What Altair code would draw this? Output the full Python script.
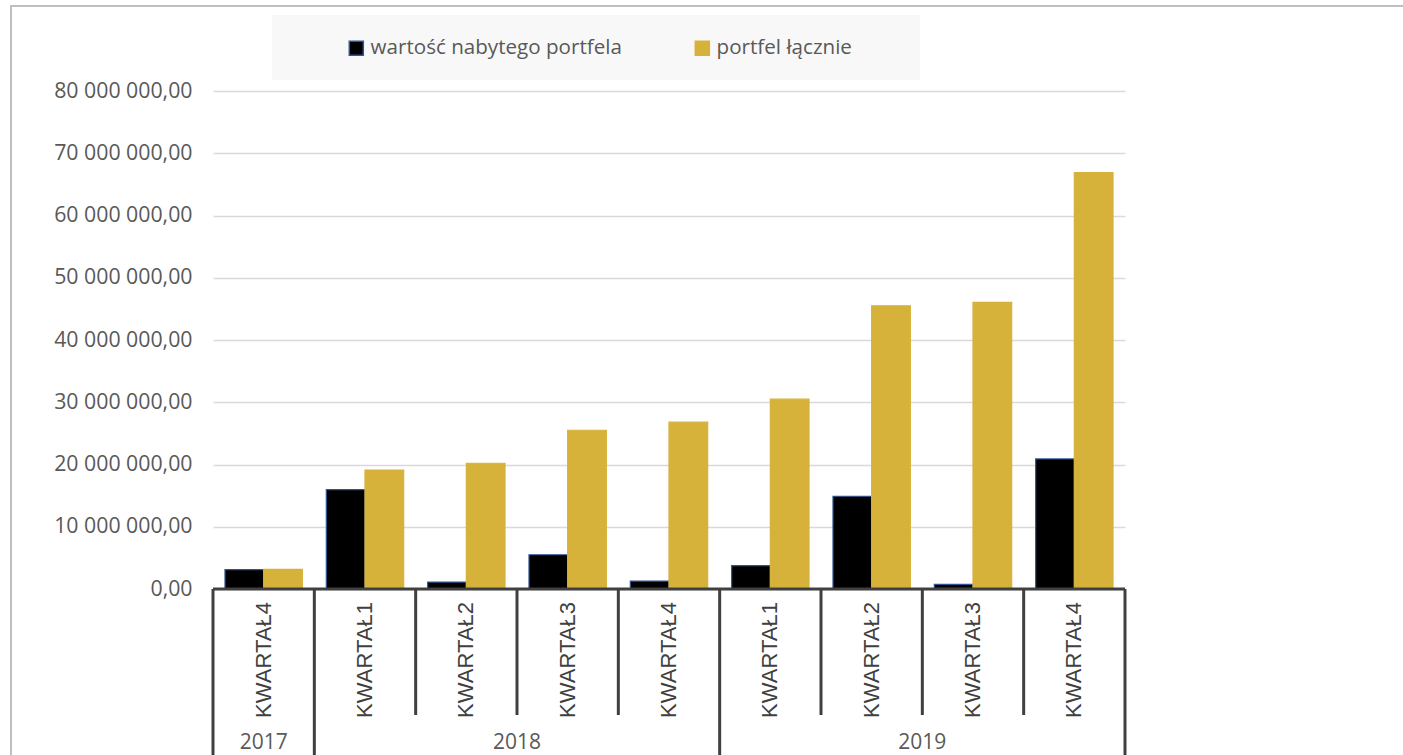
import altair as alt
import pandas as pd

# ---- data ----
years = ["2017", "2018", "2018", "2018", "2018", "2019", "2019", "2019", "2019"]
quarters = ["KWARTAŁ4", "KWARTAŁ1", "KWARTAŁ2", "KWARTAŁ3", "KWARTAŁ4",
            "KWARTAŁ1", "KWARTAŁ2", "KWARTAŁ3", "KWARTAŁ4"]
acquired = [3.10e6, 15.95e6, 1.12e6, 5.50e6, 1.28e6, 3.75e6, 14.90e6, 0.75e6, 20.90e6]
total = [3.15e6, 19.10e6, 20.20e6, 25.50e6, 26.80e6, 30.50e6, 45.50e6, 46.05e6, 66.90e6]
series_names = ["wartość nabytego portfela", "portfel łącznie"]
fill_colors = ["#000000", "#D6B23A"]
stroke_colors = ["#2F5597", "#D6B23A"]
y_ticks = [0, 10e6, 20e6, 30e6, 40e6, 50e6, 60e6, 70e6, 80e6]

cats = [f"{y}|{q}" for y, q in zip(years, quarters)]

rows = []
for c, y, q, a, t in zip(cats, years, quarters, acquired, total):
    rows.append({"cat": c, "year": y, "quarter": q, "series": series_names[0], "value": a})
    rows.append({"cat": c, "year": y, "quarter": q, "series": series_names[1], "value": t})
df = pd.DataFrame(rows)

cat_df = pd.DataFrame({"cat": cats, "year": years, "quarter": quarters})
first_of_year = [i == 0 or years[i] != years[i - 1] for i in range(len(cats))]
short_sep = cat_df[[not f for f in first_of_year]]
long_sep = cat_df[first_of_year]
last_cat = cat_df.iloc[[-1]]
# year label anchors: single-quarter year centred on its band, others at mid-span boundary
year_single = cat_df[cat_df["year"] == "2017"]
year_multi = cat_df[(cat_df["quarter"] == "KWARTAŁ2") & (cat_df["year"] != "2017")]

W, H = 912, 498
xscale = alt.Scale(domain=cats, paddingInner=0, paddingOuter=0)
AX = "#404040"
LBL = "#595959"
FONT = "Open Sans"

one = pd.DataFrame({"k": [0]})

frame = alt.Chart(one).mark_rect(fill=None, stroke="#BFBFBF", strokeWidth=2).encode(
    x=alt.value(-202), x2=alt.value(1403 - 213 + 20),
    y=alt.value(-85), y2=alt.value(755 - 91 + 20))

legend_bg = alt.Chart(one).mark_rect(fill="#F8F8F8").encode(
    x=alt.value(59), x2=alt.value(707), y=alt.value(-76), y2=alt.value(-11))

leg = alt.Legend(title=None, orient="none", legendX=133, legendY=-53,
                 direction="horizontal", symbolType="square", symbolSize=196,
                 symbolStrokeWidth=1.5, labelFont=FONT, labelFontSize=20.6,
                 labelColor=LBL, labelOffset=4, columnPadding=70, padding=0,
                 labelLimit=400)

bars = alt.Chart(df).mark_bar(strokeWidth=1.2).encode(
    x=alt.X("cat:N", scale=xscale, axis=None),
    xOffset=alt.XOffset("series:N", sort=series_names,
                        scale=alt.Scale(domain=series_names, paddingOuter=0.31, paddingInner=0)),
    y=alt.Y("value:Q", scale=alt.Scale(domain=[0, 80e6]),
            axis=alt.Axis(values=y_ticks, format=",.2f", labelFont=FONT,
                          labelFontSize=21.3, labelColor=LBL, labelPadding=21,
                          ticks=False, domain=False, grid=True, gridColor="#D9D9D9",
                          gridWidth=1.5, title=None)),
    fill=alt.Fill("series:N", scale=alt.Scale(domain=series_names, range=fill_colors), legend=leg),
    stroke=alt.Stroke("series:N", scale=alt.Scale(domain=series_names, range=stroke_colors), legend=leg),
)

base_rule = alt.Chart(one).mark_rule(color=AX, strokeWidth=3).encode(
    x=alt.value(0), x2=alt.value(W), y=alt.value(H))

short_rules = alt.Chart(short_sep).mark_rule(color=AX, strokeWidth=3).encode(
    x=alt.X("cat:N", scale=xscale, bandPosition=0, axis=None),
    y=alt.value(H), y2=alt.value(H + 126))

long_rules = alt.Chart(long_sep).mark_rule(color=AX, strokeWidth=3).encode(
    x=alt.X("cat:N", scale=xscale, bandPosition=0, axis=None),
    y=alt.value(H), y2=alt.value(H + 200))

end_rule = alt.Chart(last_cat).mark_rule(color=AX, strokeWidth=3).encode(
    x=alt.X("cat:N", scale=xscale, bandPosition=1, axis=None),
    y=alt.value(H), y2=alt.value(H + 200))

q_labels = alt.Chart(cat_df).mark_text(angle=270, align="center", baseline="middle",
                                       font="Liberation Sans", fontSize=22, color=AX).encode(
    x=alt.X("cat:N", scale=xscale, axis=None),
    y=alt.value(H + 71), text="quarter:N")

y_lab1 = alt.Chart(year_single).mark_text(align="center", baseline="middle",
                                          font=FONT, fontSize=21, color=LBL).encode(
    x=alt.X("cat:N", scale=xscale, axis=None), y=alt.value(H + 154), text="year:N")

y_lab2 = alt.Chart(year_multi).mark_text(align="center", baseline="middle",
                                         font=FONT, fontSize=21, color=LBL).encode(
    x=alt.X("cat:N", scale=xscale, bandPosition=1, axis=None), y=alt.value(H + 154), text="year:N")

chart = alt.layer(frame, legend_bg, bars, base_rule, short_rules, long_rules, end_rule,
                  q_labels, y_lab1, y_lab2).properties(
    width=W, height=H,
    padding={"left": 213, "top": 91, "right": 278, "bottom": 166},
    autosize=alt.AutoSizeParams(type="none"),
).configure(
    locale={"number": {"decimal": ",", "thousands": " ", "grouping": [3], "currency": ["", ""]}}
).configure_view(stroke=None)

chart.save("out.html", embed_options={"renderer": "svg", "actions": False})
